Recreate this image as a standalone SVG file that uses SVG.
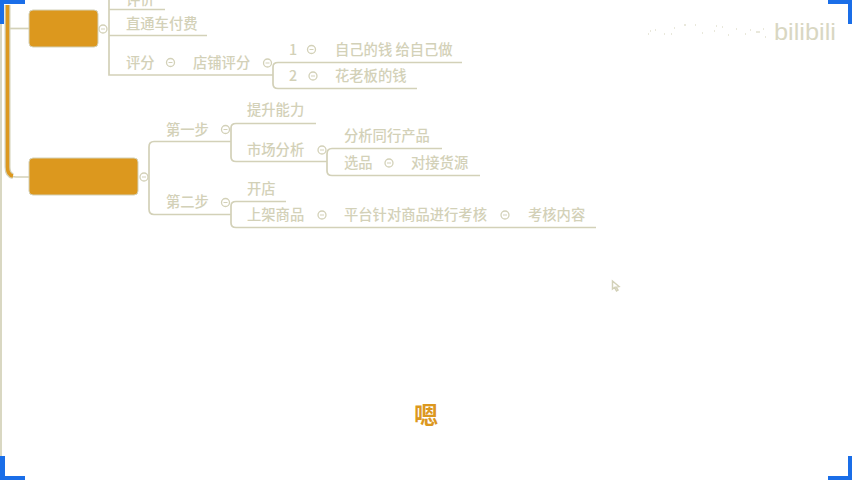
<svg xmlns="http://www.w3.org/2000/svg" width="852" height="480" viewBox="0 0 852 480">
<style>
text{font-family:"Noto Sans CJK SC","Liberation Sans",sans-serif;font-size:14.300px;font-weight:500;fill:#d3d1b8}
.l{fill:none;stroke:#d3d1b8;stroke-width:1.700}
.c{fill:#fff;stroke:#d3d1b8;stroke-width:1.300}
.n{fill:#dc981e;stroke:#d3d1b8;stroke-width:1}
.b{fill:#1a6ee8}
</style>
<defs>
<g id="m"><circle class="c" r="4"/><path d="M-2 0H2" stroke="#d3d1b8" stroke-width="1"/></g>
</defs>
<rect width="852" height="480" fill="#fff"/>
<g id="connectors">
<path class="l" d="M1 0V456"/>
<path d="M7.500 5V167Q7.500 176 16 176H29" fill="none" stroke="#d3d1b8" stroke-width="1.500" transform="translate(0 1)"/>
<path d="M7.500 5V167Q7.500 175 13 176" fill="none" stroke="#d3d1b8" stroke-width="6"/>
<path d="M7.500 5V167Q7.500 175 13 176" fill="none" stroke="#dc981e" stroke-width="3.500"/>
<path class="l" d="M10 28.500H29"/>
<path class="l" d="M109 0V75H273M109 9.500H165M109 35.500H207"/>
<path class="l" d="M273 75V67Q273 62.500 278 62.500H462M273 75V84Q273 88.500 278 88.500H417"/>
<path class="l" d="M149 176V147Q149 141.500 154 141.500H231M149 176V209Q149 214.500 154 214.500H231"/>
<path class="l" d="M231 141.500V128Q231 123.500 236 123.500H316M231 141.500V157Q231 161.500 236 161.500H327"/>
<path class="l" d="M327 161.500V154Q327 148.500 332 148.500H442M327 161.500V171Q327 175.500 332 175.500H480"/>
<path class="l" d="M231 214.500V206Q231 201.500 236 201.500H286M231 214.500V223Q231 227.500 236 227.500H596"/>
</g>
<g id="node-a"><rect class="n" x="29" y="10" width="69" height="37" rx="4"/></g>
<g id="node-b"><rect class="n" x="29" y="158" width="109" height="37" rx="4"/></g>
<g id="collapse-markers">
<use href="#m" x="103" y="29"/><use href="#m" x="170.500" y="62.500"/><use href="#m" x="267.500" y="63"/>
<use href="#m" x="311.500" y="49.500"/><use href="#m" x="313" y="76"/>
<use href="#m" x="144" y="177"/><use href="#m" x="225.500" y="129.500"/><use href="#m" x="225.500" y="202.500"/>
<use href="#m" x="322" y="150"/><use href="#m" x="389" y="163"/>
<use href="#m" x="322" y="215"/><use href="#m" x="505" y="215"/>
</g>
<g id="labels">
<text x="126" y="5">评价</text>
<text x="126" y="29">直通车付费</text>
<text x="126" y="68">评分</text>
<text x="193" y="68">店铺评分</text>
<text x="289" y="55">1</text>
<text x="335" y="55">自己的钱 给自己做</text>
<text x="289" y="81">2</text>
<text x="335" y="81">花老板的钱</text>
<text x="247" y="115">提升能力</text>
<text x="166" y="135">第一步</text>
<text x="247" y="155">市场分析</text>
<text x="344" y="141">分析同行产品</text>
<text x="344" y="168">选品</text>
<text x="411" y="168">对接货源</text>
<text x="247" y="194">开店</text>
<text x="166" y="207">第二步</text>
<text x="247" y="220">上架商品</text>
<text x="344" y="220">平台针对商品进行考核</text>
<text x="528" y="220">考核内容</text>
</g>
<g id="caption"><text x="414" y="424" style="font-size:24px;fill:#dc981e;font-weight:700">嗯</text></g>
<g id="cursor"><path d="M612.500 281V289L614.500 287.500L616.500 291L618 290L616 287L619 286.500Z" fill="#fff" stroke="#d3d1b8" stroke-width="1.500"/></g>
<g id="watermark">
<text x="774" y="40" textLength="62" lengthAdjust="spacingAndGlyphs" style="font-size:24px;font-family:'Liberation Sans',sans-serif;font-weight:400;fill:#d3d1b8" opacity=".85">bilibili</text>
<path d="M648 34h1M655 30h1M650 31h1M664 34h1M671 34h1M674 28h1M684 25h2M695 25h1M702 33h1M714 31h1M716 26h1M722 27h1M728 35h1M736 29h1M745 34h1M750 30h1M756 32h4M763 29h1M765 37h1" stroke="#d3d1b8" fill="none"/>
</g>
<g id="corners">
<path class="b" d="M0 0H25V4H4V24H0Z"/>
<path class="b" d="M828 0H852V24H848V4H828Z"/>
<path class="b" d="M0 456H5V476H25V480H0Z"/>
<path class="b" d="M848 456H852V480H828V476H848Z"/>
</g>
</svg>
